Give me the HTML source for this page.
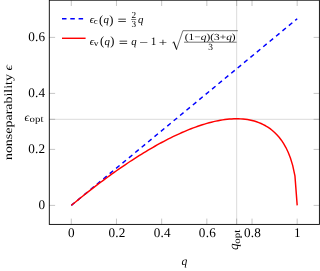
<!DOCTYPE html>
<html><head><meta charset="utf-8"><title>nonseparability</title>
<style>html,body{margin:0;padding:0;background:#fff;overflow:hidden}svg{display:block}text{font-family:"Liberation Serif",serif;fill:#000;text-rendering:geometricPrecision}.i{font-style:italic}</style>
</head><body>
<svg width="320" height="271" viewBox="0 0 320 271">
<defs><filter id="g" x="-5%" y="-5%" width="110%" height="110%" color-interpolation-filters="sRGB"><feOffset dx="0" dy="0"/></filter></defs>
<rect width="320" height="271" fill="#fff"/>
<path d="M49.3,119.32H319.4M236.67,0.2V224.4" stroke="#bfbfbf" stroke-width="0.55" fill="none"/>
<path d="M71.30,224.4v-5.8M71.30,0.2v5.8M116.48,224.4v-5.8M116.48,0.2v5.8M161.66,224.4v-5.8M161.66,0.2v5.8M206.84,224.4v-5.8M206.84,0.2v5.8M252.02,224.4v-5.8M252.02,0.2v5.8M297.20,224.4v-5.8M297.20,0.2v5.8M49.3,205.40h5.8M319.4,205.40h-5.8M49.3,149.40h5.8M319.4,149.40h-5.8M49.3,93.40h5.8M319.4,93.40h-5.8M49.3,37.40h5.8M319.4,37.40h-5.8M236.67,224.4v-5.8M236.67,0.2v5.8M49.3,119.32h5.8M319.4,119.32h-5.8" stroke="#808080" stroke-width="0.45" fill="none"/>
<rect x="49.3" y="0.2" width="270.10" height="224.20" fill="none" stroke="#000" stroke-width="0.9"/>
<path d="M71.30,205.40L297.20,18.73" stroke="#00f" stroke-width="1.45" stroke-dasharray="4.5 3.8" fill="none"/>
<path d="M71.30,205.40L73.56,203.54L75.82,201.69L78.08,199.86L80.34,198.03L82.59,196.22L84.85,194.43L87.11,192.65L89.37,190.88L91.63,189.12L93.89,187.38L96.15,185.65L98.41,183.93L100.67,182.23L102.93,180.55L105.19,178.88L107.44,177.22L109.70,175.58L111.96,173.95L114.22,172.34L116.48,170.75L118.74,169.17L121.00,167.60L123.26,166.06L125.52,164.53L127.78,163.01L130.03,161.51L132.29,160.03L134.55,158.57L136.81,157.13L139.07,155.70L141.33,154.29L143.59,152.90L145.85,151.53L148.11,150.18L150.37,148.85L152.62,147.54L154.88,146.25L157.14,144.98L159.40,143.73L161.66,142.51L163.92,141.30L166.18,140.12L168.44,138.96L170.70,137.83L172.95,136.72L175.21,135.63L177.47,134.57L179.73,133.54L181.99,132.53L184.25,131.55L186.51,130.59L188.77,129.67L191.03,128.77L193.29,127.91L195.55,127.08L197.80,126.28L200.06,125.51L202.32,124.77L204.58,124.07L206.84,123.41L209.10,122.78L211.36,122.20L213.62,121.65L215.88,121.15L218.13,120.68L220.39,120.27L222.65,119.90L224.91,119.57L227.17,119.30L229.43,119.08L231.69,118.92L233.95,118.81L236.21,118.77L238.47,118.79L240.73,118.88L242.98,119.03L245.24,119.27L247.50,119.58L249.76,119.98L252.02,120.47L254.28,121.06L256.54,121.75L258.80,122.56L261.06,123.49L263.31,124.55L265.57,125.76L267.83,127.14L270.09,128.69L272.35,130.45L274.61,132.44L276.87,134.70L279.13,137.27L281.39,140.21L283.65,143.60L285.90,147.56L288.16,152.26L290.42,158.01L292.68,165.39L294.94,175.91L297.20,205.40" stroke="#f00" stroke-width="1.45" fill="none" stroke-linejoin="round"/>
<path d="M62,18.8h23.6" stroke="#00f" stroke-width="1.45" stroke-dasharray="4.5 3.8" fill="none"/>
<path d="M62,38.3h23.6" stroke="#f00" stroke-width="1.45" fill="none"/>
<g filter="url(#g)" font-size="13.2">
<text x="71.40" y="237.2" text-anchor="middle">0</text>
<text x="116.93" y="237.2" text-anchor="middle" textLength="16.9" lengthAdjust="spacing">0.2</text>
<text x="162.11" y="237.2" text-anchor="middle" textLength="16.9" lengthAdjust="spacing">0.4</text>
<text x="207.29" y="237.2" text-anchor="middle" textLength="16.9" lengthAdjust="spacing">0.6</text>
<text x="252.47" y="237.2" text-anchor="middle" textLength="16.9" lengthAdjust="spacing">0.8</text>
<text x="297.30" y="237.2" text-anchor="middle">1</text>
<text x="45.2" y="209.20" text-anchor="end">0</text>
<text x="45.2" y="153.20" text-anchor="end" textLength="16.9" lengthAdjust="spacing">0.2</text>
<text x="45.2" y="97.20" text-anchor="end" textLength="16.9" lengthAdjust="spacing">0.4</text>
<text x="45.2" y="41.20" text-anchor="end" textLength="16.9" lengthAdjust="spacing">0.6</text>
<text x="24.4" y="120.57" font-size="11.8" class="i">ϵ</text>
<text x="29.6" y="121.77" font-size="9.3" textLength="13.9" lengthAdjust="spacingAndGlyphs">opt</text>
<text transform="translate(238.27,250) rotate(-90)" class="i">q</text>
<text transform="translate(239.67,243.7) rotate(-90)" font-size="9.3" textLength="13.9" lengthAdjust="spacingAndGlyphs">opt</text>
<text x="184.5" y="264.5" font-size="11.6" class="i" text-anchor="middle">q</text>
<text transform="translate(12,160.1) rotate(-90)" font-size="11.6" textLength="95.2" lengthAdjust="spacingAndGlyphs">nonseparability <tspan class="i">ϵ</tspan></text>
</g>
<g filter="url(#g)" font-size="11.3">
<text x="89.7" y="23.1" font-size="10.8" class="i">ϵ</text>
<text x="93.8" y="24.1" font-size="8.3" textLength="3.9" lengthAdjust="spacingAndGlyphs">c</text>
<text x="98.9" y="23.6" font-size="12.5">(</text>
<text x="103.6" y="23.1" font-size="10.8" class="i">q</text>
<text x="109.2" y="23.6" font-size="12.5">)</text>
<text x="117.6" y="23.900000000000002" textLength="9.2" lengthAdjust="spacingAndGlyphs">=</text>
<text x="133.7" y="17.8" font-size="9.2" text-anchor="middle">2</text>
<text x="133.7" y="26.700000000000003" font-size="9.2" text-anchor="middle">3</text>
<text x="138" y="23.3" font-size="10.8" class="i">q</text>
<text x="89.7" y="44.9" font-size="10.8" class="i">ϵ</text>
<text x="93.8" y="45.9" font-size="8.3" textLength="4.7" lengthAdjust="spacingAndGlyphs">v</text>
<text x="99.9" y="45.4" font-size="12.5">(</text>
<text x="104.6" y="44.9" font-size="10.8" class="i">q</text>
<text x="110.2" y="45.4" font-size="12.5">)</text>
<text x="118.8" y="45.699999999999996" textLength="9.2" lengthAdjust="spacingAndGlyphs">=</text>
<text x="131.3" y="44.9" font-size="10.8" class="i">q</text>
<text x="139.2" y="45.699999999999996" textLength="8.9" lengthAdjust="spacingAndGlyphs">−</text>
<text x="150.8" y="44.9">1</text>
<text x="158.8" y="45.5" textLength="8.4" lengthAdjust="spacingAndGlyphs">+</text>
<text x="184.8" y="40.4" font-size="9.3" textLength="50.9" lengthAdjust="spacingAndGlyphs">(1−<tspan class="i">q</tspan>)(3+<tspan class="i">q</tspan>)</text>
<text x="210.5" y="49.7" font-size="9.4" text-anchor="middle">3</text>
</g>
<path d="M131.2,19.5h5" stroke="#000" stroke-width="0.55"/>
<path d="M172.4,42.9l1.5,-0.9M176.6,49.2L182.9,30.7H237.8" stroke="#000" stroke-width="0.55" fill="none" stroke-linejoin="miter"/>
<path d="M173.7,41.8L176.7,49.6" stroke="#000" stroke-width="1.05" fill="none"/>
<path d="M184,42.2h52.6" stroke="#000" stroke-width="0.55"/>
</svg>
</body></html>
